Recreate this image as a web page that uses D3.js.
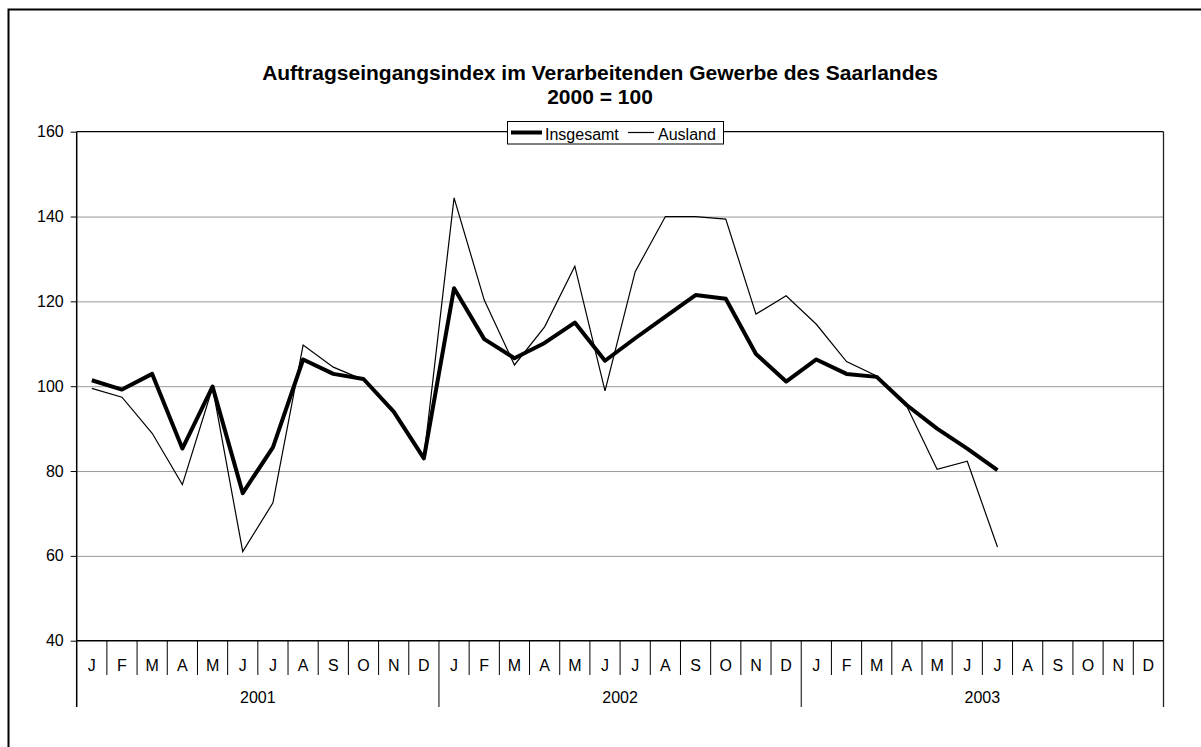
<!DOCTYPE html>
<html>
<head>
<meta charset="utf-8">
<script src="https://cdn.jsdelivr.net/npm/d3@7"></script>
<style>
  body { margin: 0; background: #fff; }
  svg { display: block; font-family: "Liberation Sans", Arial, sans-serif; }
</style>
</head>
<body>
<svg id="chart" width="1201" height="747"></svg>
<script>
// data
const monthLabels = ["J","F","M","A","M","J","J","A","S","O","N","D"];
const years = ["2001", "2002", "2003"];
const yTicks = [40, 60, 80, 100, 120, 140, 160];

const insgesamt = [
    101.4, 99.2, 102.9, 85.3, 99.9, 74.8, 85.6, 106.3, 102.9, 101.7, 94.0, 83.0,
    123.1, 111.1, 106.6, 110.2, 115.0, 106.0, 111.3, 116.4, 121.5, 120.6, 107.6, 101.1,
    106.3, 102.9, 102.2, 95.5, 90.0, 85.3, 80.2
];
const ausland = [
    99.5, 97.4, 88.9, 76.8, 99.7, 61.0, 72.5, 109.7, 104.5, 101.5, 93.8, 83.1,
    144.4, 120.3, 105.0, 114.0, 128.3, 98.9, 127.0, 140.0, 140.0, 139.4, 117.0, 121.3,
    114.6, 105.8, 102.4, 95.2, 80.4, 82.3, 62.1
];

const svg = d3.select("#chart");

const plotLeft = 76.7, plotRight = 1163.5, plotTop = 131.7, plotBottom = 640.7;
const nMonths = years.length * 12;
const labelFont = "16px";

const x = d3.scaleBand().domain(d3.range(nMonths)).range([plotLeft, plotRight]);
const y = d3.scaleLinear().domain([40, 160]).range([plotBottom, plotTop]);

// outer frame (right/bottom edges run off the page like in the reference)
svg.append("rect")
    .attr("x", 8.5).attr("y", 9.5)
    .attr("width", 1300).attr("height", 900)
    .attr("fill", "none").attr("stroke", "#000").attr("stroke-width", 2);

// title
const title = svg.append("text")
    .attr("text-anchor", "middle")
    .style("font-weight", "bold").style("font-size", "21px");
title.append("tspan").attr("x", 600).attr("y", 79.5)
    .text("Auftragseingangsindex im Verarbeitenden Gewerbe des Saarlandes");
title.append("tspan").attr("x", 600).attr("y", 103.5).text("2000 = 100");

// gridlines
svg.append("g")
    .attr("transform", `translate(${plotLeft},0)`)
    .call(d3.axisLeft(y).tickValues(yTicks.slice(1, -1)).tickSize(-(plotRight - plotLeft)).tickFormat(""))
    .call(g => g.select(".domain").remove())
    .selectAll("line").attr("stroke", "#999").attr("stroke-width", 1);

// plot border top and right
svg.append("line").attr("x1", plotLeft).attr("x2", plotRight).attr("y1", y(160)).attr("y2", y(160))
    .attr("stroke", "#000").attr("stroke-width", 1.3);
svg.append("line").attr("x1", plotRight).attr("x2", plotRight).attr("y1", y(160)).attr("y2", 707)
    .attr("stroke", "#222").attr("stroke-width", 1.3);

// y axis
const yAxis = svg.append("g")
    .attr("transform", `translate(${plotLeft},0)`)
    .call(d3.axisLeft(y).tickValues(yTicks).tickSize(6).tickPadding(7));
yAxis.select(".domain").remove();
yAxis.selectAll("line").attr("stroke", "#000");
yAxis.selectAll("text").style("font-size", labelFont).attr("fill", "#000")
    .style("font-family", "Liberation Sans, Arial, sans-serif");
svg.append("line").attr("x1", plotLeft).attr("x2", plotLeft).attr("y1", y(160)).attr("y2", 707)
    .attr("stroke", "#000").attr("stroke-width", 1.5);

// x axis: month labels
const xAxis = svg.append("g")
    .attr("transform", `translate(0,${plotBottom})`)
    .call(d3.axisBottom(x).tickSize(0).tickPadding(19).tickFormat(i => monthLabels[i % 12]));
xAxis.select(".domain").remove();
xAxis.selectAll("text").style("font-size", labelFont).attr("fill", "#000")
    .style("font-family", "Liberation Sans, Arial, sans-serif");

svg.append("line").attr("x1", plotLeft).attr("x2", plotRight).attr("y1", plotBottom).attr("y2", plotBottom)
    .attr("stroke", "#000").attr("stroke-width", 1.5);

// month separators, longer at year boundaries
svg.append("g").selectAll("line")
    .data(d3.range(1, nMonths))
    .join("line")
    .attr("x1", i => x(i)).attr("x2", i => x(i))
    .attr("y1", plotBottom)
    .attr("y2", i => i % 12 === 0 ? 707 : 675)
    .attr("stroke", "#000").attr("stroke-width", 1);

// year labels
svg.append("g").selectAll("text")
    .data(years)
    .join("text")
    .attr("x", (d, k) => (x(k * 12) + x(k * 12 + 11) + x.bandwidth()) / 2)
    .attr("y", 703)
    .attr("text-anchor", "middle")
    .style("font-size", labelFont)
    .text(d => d);

// series lines
const line = d3.line()
    .x((d, i) => x(i) + x.bandwidth() / 2)
    .y(d => y(d));

svg.append("path").datum(ausland)
    .attr("d", line).attr("fill", "none")
    .attr("stroke", "#000").attr("stroke-width", 1.2).attr("stroke-linejoin", "miter");

svg.append("path").datum(insgesamt)
    .attr("d", line).attr("fill", "none")
    .attr("stroke", "#000").attr("stroke-width", 4).attr("stroke-linejoin", "round");

// legend
const legend = svg.append("g");
legend.append("rect")
    .attr("x", 507.5).attr("y", 121.5).attr("width", 216).attr("height", 22.5)
    .attr("fill", "#fff").attr("stroke", "#000").attr("stroke-width", 1);
legend.append("line").attr("x1", 511).attr("x2", 542).attr("y1", 132.5).attr("y2", 132.5)
    .attr("stroke", "#000").attr("stroke-width", 4);
legend.append("text").attr("x", 545).attr("y", 139.5).style("font-size", labelFont).text("Insgesamt");
legend.append("line").attr("x1", 628).attr("x2", 654).attr("y1", 132.5).attr("y2", 132.5)
    .attr("stroke", "#000").attr("stroke-width", 1.2);
legend.append("text").attr("x", 658).attr("y", 139.5).style("font-size", labelFont).text("Ausland");
</script>
</body>
</html>
